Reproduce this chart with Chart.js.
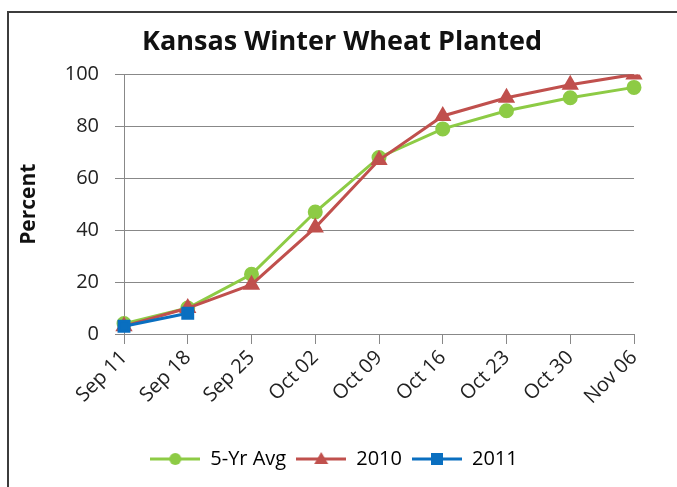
<!DOCTYPE html>
<html>
<head>
<meta charset="utf-8">
<script src="https://cdn.jsdelivr.net/npm/chart.js@4.4.0/dist/chart.umd.min.js"></script>
<style>
  html, body { margin: 0; padding: 0; background: #fff; }
  #wrap { width: 677px; height: 487px; }
</style>
</head>
<body>
<div id="wrap"><canvas id="wheatChart" width="677" height="487"></canvas></div>
<script>
// data
const weeks = ['Sep 11', 'Sep 18', 'Sep 25', 'Oct 02', 'Oct 09', 'Oct 16', 'Oct 23', 'Oct 30', 'Nov 06'];
const avg5yr = [4, 10, 23, 47, 68, 79, 86, 91, 95];
const year2010 = [3, 10, 19, 41, 67, 84, 91, 96, 100];
const year2011 = [3, 8];
const yTicks = [0, 20, 40, 60, 80, 100];

const GREEN = '#8DCB45', RED = '#C0504D', BLUE = '#0A6FC0';
const FONT = "'Open Sans', sans-serif";

// small canvas with a line + marker, used as legend symbol
function legendSymbol(color, shape) {
    const c = document.createElement('canvas');
    c.width = 50; c.height = 16;
    const g = c.getContext('2d');
    g.strokeStyle = color; g.fillStyle = color; g.lineWidth = 3;
    g.beginPath(); g.moveTo(0, 8); g.lineTo(50, 8); g.stroke();
    g.beginPath();
    if (shape === 'circle') g.arc(25, 8, 6, 0, Math.PI * 2);
    else if (shape === 'triangle') { g.moveTo(25, 1); g.lineTo(32, 13); g.lineTo(18, 13); g.closePath(); }
    else g.rect(19, 2, 12, 12);
    g.fill();
    return c;
}

const frame = {
    id: 'frame',
    afterLayout(chart) {
        // title and legend sit a little right of the plot centre in the original
        if (chart.titleBlock) { chart.titleBlock.left += 20; chart.titleBlock.right += 20; }
        if (chart.legend) { chart.legend.left += 12; chart.legend.right += 12; }
    },
    beforeDraw(chart) {
        const ctx = chart.ctx;
        ctx.save();
        ctx.fillStyle = '#fff';
        ctx.fillRect(0, 0, chart.width, chart.height);
        ctx.strokeStyle = '#3c3c3c'; ctx.lineWidth = 2;
        ctx.strokeRect(8, 12, 700, 500);
        ctx.restore();
    }
};

const symbols = [legendSymbol(GREEN, 'circle'), legendSymbol(RED, 'triangle'), legendSymbol(BLUE, 'rect')];

new Chart(document.getElementById('wheatChart').getContext('2d'), {
    type: 'line',
    data: {
        labels: weeks,
        datasets: [
            { label: '5-Yr Avg', data: avg5yr, borderColor: GREEN, backgroundColor: GREEN, borderWidth: 3, pointStyle: 'circle', pointRadius: 6, order: 3, tension: 0 },
            { label: '2010', data: year2010, borderColor: RED, backgroundColor: RED, borderWidth: 3, pointStyle: 'triangle', pointRadius: 7, order: 2, tension: 0 },
            { label: '2011', data: year2011, borderColor: BLUE, backgroundColor: BLUE, borderWidth: 3, pointStyle: 'rect', pointRadius: 7, order: 1, tension: 0 }
        ]
    },
    options: {
        responsive: false, animation: false,
        layout: { padding: { left: 10, right: 43, top: 0, bottom: 8 } },
        plugins: {
            title: { display: true, text: 'Kansas Winter Wheat Planted', color: '#111', font: { family: FONT, size: 27, weight: 'bold' }, padding: { top: 26, bottom: 16 } },
            legend: {
                position: 'bottom',
                labels: {
                    usePointStyle: true, pointStyleWidth: 50, padding: 10, color: '#222',
                    font: { family: FONT, size: 20 },
                    generateLabels: (chart) => chart.data.datasets.map((d, i) => ({
                        text: d.label, pointStyle: symbols[i], fillStyle: d.borderColor, strokeStyle: d.borderColor,
                        lineWidth: 0, hidden: false, datasetIndex: i
                    }))
                }
            },
            tooltip: { enabled: false }
        },
        scales: {
            x: {
                grid: { drawOnChartArea: false, drawTicks: true, tickLength: 10, color: '#888' },
                border: { color: '#888', width: 1 },
                ticks: { autoSkip: false, minRotation: 45, maxRotation: 45, color: '#222', padding: 2, font: { family: FONT, size: 20 } },
                afterFit: (s) => { s.height = 105; }
            },
            y: {
                min: 0, max: 100,
                afterBuildTicks: (s) => { s.ticks = yTicks.map(v => ({ value: v })); },
                grid: { color: '#888', tickLength: 9 },
                border: { color: '#888', width: 1 },
                ticks: { color: '#222', padding: 16, font: { family: FONT, size: 20 } },
                title: { display: true, text: 'Percent', color: '#111', font: { family: FONT, size: 21, weight: 'bold' }, padding: { top: 6 } },
                afterFit: (s) => { s.width = 114; }
            }
        }
    },
    plugins: [frame]
});
</script>
</body>
</html>
